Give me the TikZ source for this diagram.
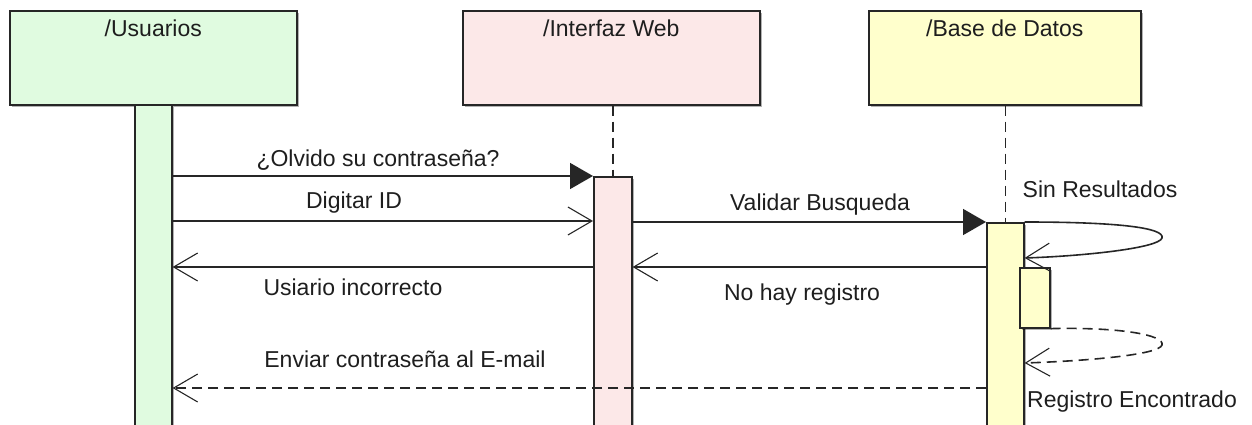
\documentclass[tikz,border=0pt]{standalone}
\usepackage{fontspec}
\setmainfont{Liberation Sans}
\usetikzlibrary{arrows.meta,shadows}
\definecolor{ugreen}{RGB}{224,251,224}
\definecolor{upink}{RGB}{252,232,232}
\definecolor{uyellow}{RGB}{255,255,204}
\definecolor{txt}{RGB}{30,30,30}
\begin{document}
\begin{tikzpicture}[x=1pt,y=-1pt,
  shade/.style={drop shadow={shadow xshift=2.5pt,shadow yshift=-2.5pt,opacity=0.3,fill=black}},
  lifebox/.style={draw=black!85, line width=1.6pt, inner sep=0pt, text height=26pt, text depth=68pt,
    minimum height=94pt, anchor=north west, shade, text=txt, font=\fontsize{23}{27}\selectfont},
  actbar/.style={draw=black!85, line width=1.6pt, inner sep=0pt, anchor=north west, shade},
  lbl/.style={anchor=base, inner sep=0pt, text=txt, font=\fontsize{23}{27}\selectfont},
  msgline/.style={line width=1.6pt, draw=black!85},
  syncmsg/.style={msgline, -{Triangle[length=23pt,width=26pt]}},
  asyncmsg/.style={msgline, -{Straight Barb[length=24pt,width=28pt,line width=1.1pt]}},
  retmsg/.style={asyncmsg, dash pattern=on 10pt off 6pt},
  lifeline/.style={line width=1.6pt, draw=black!85, dash pattern=on 10pt off 6pt},
]
\useasboundingbox (0,0) rectangle (1252,425);
\clip (0,0) rectangle (1252,425);

% lifeline heads
\node[lifebox, fill=ugreen, minimum width=287pt] (u) at (9,10) {/Usuarios};
\node[lifebox, fill=upink, minimum width=297pt] (i) at (462,10) {/Interfaz Web};
\node[lifebox, fill=uyellow, minimum width=272pt] (d) at (868,10) {/Base de Datos};

% activation bars
\node[actbar, fill=ugreen, minimum width=37pt, minimum height=340pt] (ub) at (134,104) {};
\node[actbar, fill=upink, minimum width=38pt, minimum height=270pt] (ib) at (593,176) {};
\node[actbar, fill=uyellow, minimum width=37pt, minimum height=225pt] (db) at (986,222) {};
\node[actbar, fill=uyellow, minimum width=30pt, minimum height=60pt] (dn) at (1019,267) {};

% dashed lifelines
\draw[lifeline] (i.south -| ib.north) -- (ib.north);
\draw[lifeline] (d.south -| db.north) -- (db.north);

% message levels
\coordinate (y2) at (0,221);
\coordinate (y4) at (0,267);
\coordinate (y6) at (0,388);
\coordinate (ys1) at (0,258);
\coordinate (ys2) at (0,363);

% messages
\draw[syncmsg] (ub.east |- ib.north west) -- (ib.north west);
\node[lbl] (l1) at (378,166) {¿Olvido su contraseña?};

\draw[asyncmsg] (ub.east |- y2) -- (ib.west |- y2);
\node[lbl] (l2) at (354,208) {Digitar ID};

\draw[syncmsg] (ib.east |- db.north west) -- (db.north west);
\node[lbl] (l3) at (820,210) {Validar Busqueda};

\draw[asyncmsg] (db.west |- y4) -- (ib.east |- y4);
\node[lbl] (l4) at (802,300) {No hay registro};

\draw[asyncmsg] (ib.west |- y4) -- (ub.east |- y4);
\node[lbl] (l5) at (353,295) {Usiario incorrecto};

\draw[retmsg] (db.west |- y6) -- (ub.east |- y6);
\node[lbl] (l6) at (405,367) {Enviar contraseña al E-mail};

% self messages
\draw[asyncmsg] (db.north east) .. controls (1120,222) and (1165,228) .. (1162,238)
  .. controls (1159,248) and (1085,256) .. (db.east |- ys1);
\node[lbl] (l7) at (1100,197) {Sin Resultados};

\draw[retmsg] (dn.south east) .. controls (1120,327) and (1165,335) .. (1162,345)
  .. controls (1159,355) and (1085,361) .. (db.east |- ys2);
\node[lbl] (l8) at (1132,407) {Registro Encontrado};
\end{tikzpicture}
\end{document}
